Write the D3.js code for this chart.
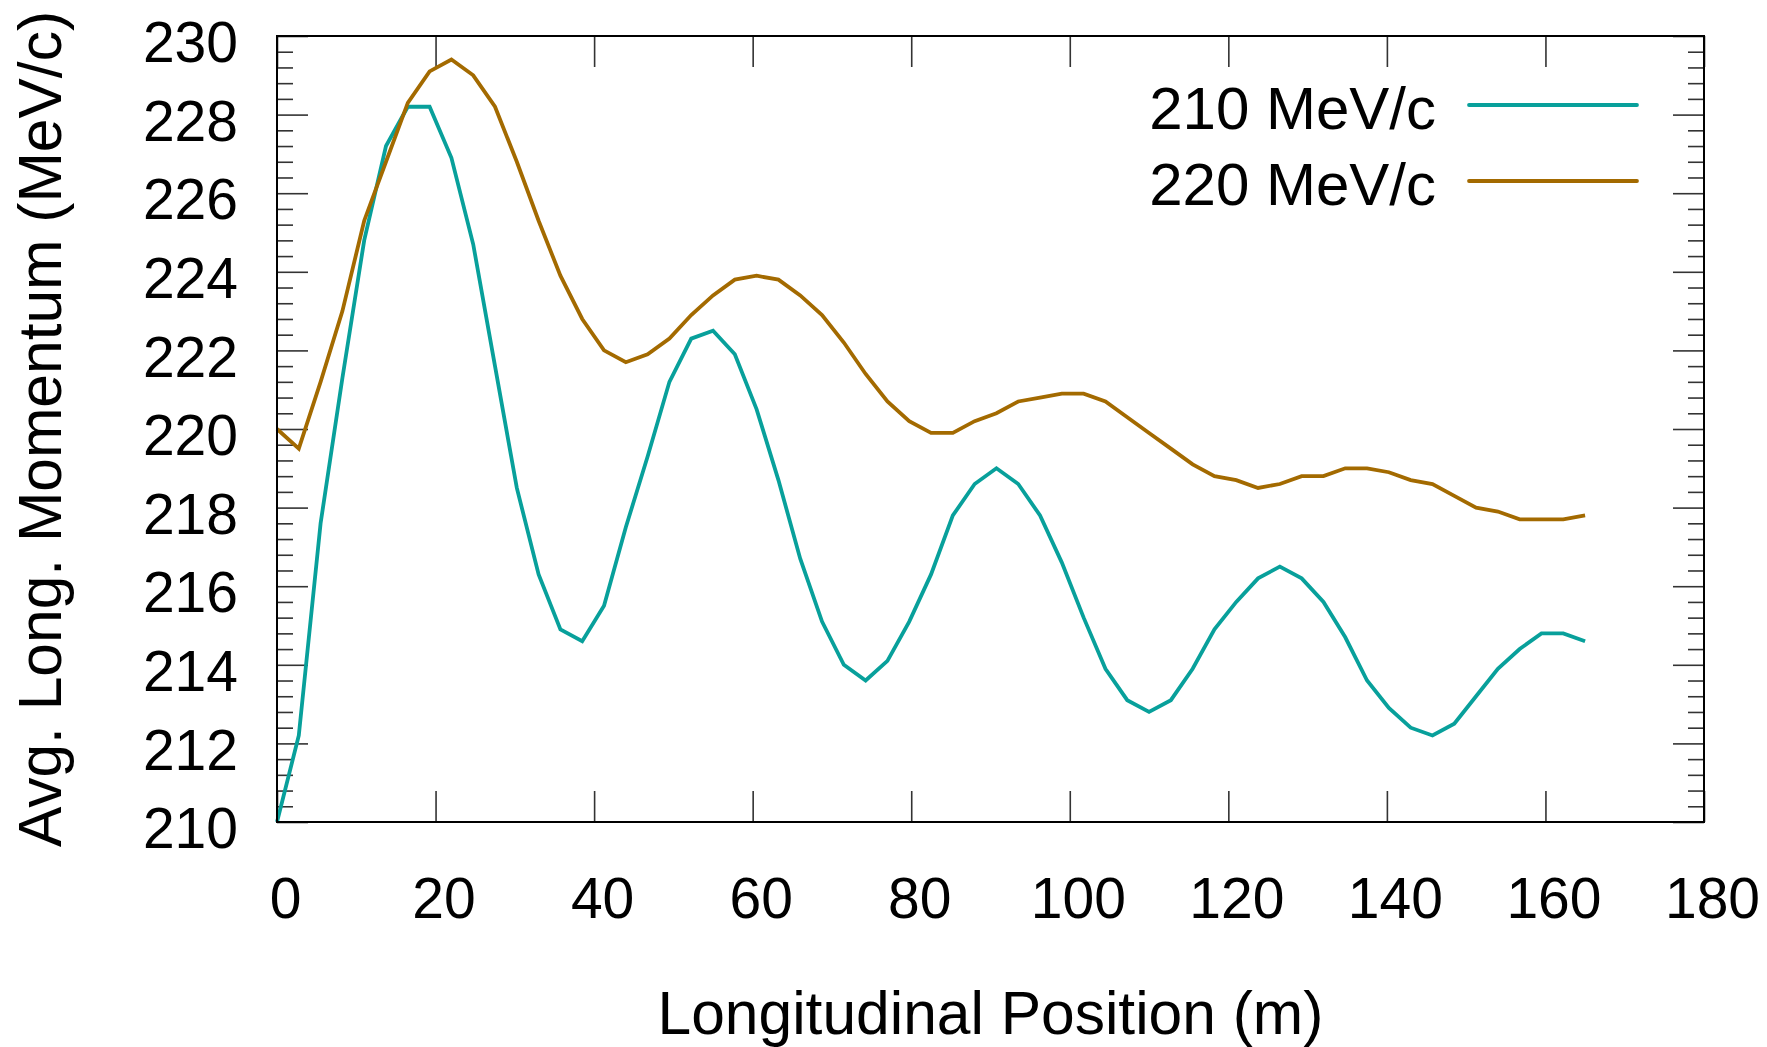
<!DOCTYPE html>
<html>
<head>
<meta charset="utf-8">
<script src="https://cdn.jsdelivr.net/npm/d3@7"></script>
<style>
  html, body { margin: 0; padding: 0; background: #fff; }
  svg { display: block; }
  text { font-family: "Liberation Sans", Arial, sans-serif; fill: #000; }
</style>
</head>
<body>
<svg id="chart" width="1767" height="1047"></svg>
<script>
// ---- Data ----
const positions = [0, 2.75, 5.5, 8.25, 11, 13.75, 16.5, 19.25, 22, 24.75,
  27.5, 30.25, 33, 35.75, 38.5, 41.25, 44, 46.75, 49.5, 52.25,
  55, 57.75, 60.5, 63.25, 66, 68.75, 71.5, 74.25, 77, 79.75,
  82.5, 85.25, 88, 90.75, 93.5, 96.25, 99, 101.75, 104.5, 107.25,
  110, 112.75, 115.5, 118.25, 121, 123.75, 126.5, 129.25, 132, 134.75,
  137.5, 140.25, 143, 145.75, 148.5, 151.25, 154, 156.75, 159.5, 162.25, 165];

const p210 = [210.0, 212.2, 217.6, 221.3, 224.8, 227.2, 228.2, 228.2, 226.9, 224.7,
  221.6, 218.5, 216.3, 214.9, 214.6, 215.5, 217.5, 219.3, 221.2, 222.3,
  222.5, 221.9, 220.5, 218.7, 216.7, 215.1, 214.0, 213.6, 214.1, 215.1,
  216.3, 217.8, 218.6, 219.0, 218.6, 217.8, 216.6, 215.2, 213.9, 213.1,
  212.8, 213.1, 213.9, 214.9, 215.6, 216.2, 216.5, 216.2, 215.6, 214.7,
  213.6, 212.9, 212.4, 212.2, 212.5, 213.2, 213.9, 214.4, 214.8, 214.8, 214.6];

const p220 = [220.0, 219.5, 221.2, 223.0, 225.3, 226.8, 228.3, 229.1, 229.4, 229.0,
  228.2, 226.8, 225.3, 223.9, 222.8, 222.0, 221.7, 221.9, 222.3, 222.9,
  223.4, 223.8, 223.9, 223.8, 223.4, 222.9, 222.2, 221.4, 220.7, 220.2,
  219.9, 219.9, 220.2, 220.4, 220.7, 220.8, 220.9, 220.9, 220.7, 220.3,
  219.9, 219.5, 219.1, 218.8, 218.7, 218.5, 218.6, 218.8, 218.8, 219.0,
  219.0, 218.9, 218.7, 218.6, 218.3, 218.0, 217.9, 217.7, 217.7, 217.7, 217.8];

const seriesNames = ["210 MeV/c", "220 MeV/c"];
const seriesColors = ["#08a09b", "#a36a00"];
const xTicks = [0, 20, 40, 60, 80, 100, 120, 140, 160, 180];
const yTicks = [210, 212, 214, 216, 218, 220, 222, 224, 226, 228, 230];
const yMinorTicks = [210.4, 210.8, 211.2, 211.6, 212.4, 212.8, 213.2, 213.6,
  214.4, 214.8, 215.2, 215.6, 216.4, 216.8, 217.2, 217.6,
  218.4, 218.8, 219.2, 219.6, 220.4, 220.8, 221.2, 221.6,
  222.4, 222.8, 223.2, 223.6, 224.4, 224.8, 225.2, 225.6,
  226.4, 226.8, 227.2, 227.6, 228.4, 228.8, 229.2, 229.6];
const xTitle = "Longitudinal Position (m)";
const yTitle = "Avg. Long. Momentum (MeV/c)";

// ---- Layout ----
const L = 277, R = 1704, T = 36, B = 822;
const svg = d3.select("#chart");
const x = d3.scaleLinear().domain([0, 180]).range([L, R]);
const y = d3.scaleLinear().domain([210, 230]).range([B, T]);

const tickColor = "#333";

function styleAxis(g, labels) {
  g.select(".domain").remove();
  g.selectAll(".tick line").attr("stroke", tickColor).attr("stroke-width", 1.6);
  if (!labels) g.selectAll(".tick text").remove();
}

// bottom axis
svg.append("g").attr("transform", `translate(0,${B})`)
  .call(d3.axisBottom(x).tickValues(xTicks).tickSize(-31).tickPadding(56).tickFormat(d3.format("d")))
  .call(g => styleAxis(g, true))
  .call(g => g.selectAll(".tick text").attr("font-size", 57).attr("dx", 8)
      .attr("font-family", "Liberation Sans, Arial, sans-serif").attr("fill", "#000"));
// top axis
svg.append("g").attr("transform", `translate(0,${T})`)
  .call(d3.axisTop(x).tickValues(xTicks).tickSize(-31))
  .call(g => styleAxis(g, false));
// left axis major
svg.append("g").attr("transform", `translate(${L},0)`)
  .call(d3.axisLeft(y).tickValues(yTicks).tickSize(-31).tickPadding(39).tickFormat(d3.format("d")))
  .call(g => styleAxis(g, true))
  .call(g => g.selectAll(".tick text").attr("font-size", 57).attr("dy", "0.45em")
      .attr("font-family", "Liberation Sans, Arial, sans-serif").attr("fill", "#000"));
// left minor
svg.append("g").attr("transform", `translate(${L},0)`)
  .call(d3.axisLeft(y).tickValues(yMinorTicks).tickSize(-16))
  .call(g => styleAxis(g, false));
// right axis major + minor
svg.append("g").attr("transform", `translate(${R},0)`)
  .call(d3.axisRight(y).tickValues(yTicks).tickSize(-31))
  .call(g => styleAxis(g, false));
svg.append("g").attr("transform", `translate(${R},0)`)
  .call(d3.axisRight(y).tickValues(yMinorTicks).tickSize(-16))
  .call(g => styleAxis(g, false));

// lines
const rows = [p210, p220];
const line = d3.line().x((d, i) => x(positions[i])).y(d => y(d));
rows.forEach((vals, k) => {
  svg.append("path").datum(vals)
    .attr("d", line)
    .attr("fill", "none")
    .attr("stroke", seriesColors[k])
    .attr("stroke-width", 3.8)
    .attr("stroke-linejoin", "miter");
});

// frame
svg.append("rect").attr("x", L).attr("y", T).attr("width", R - L).attr("height", B - T)
  .attr("fill", "none").attr("stroke", "#000").attr("stroke-width", 2);

// legend
const legY = [105, 181];
seriesNames.forEach((name, k) => {
  svg.append("text").attr("x", 1436).attr("y", legY[k] + 24)
    .attr("text-anchor", "end").attr("font-size", 60).text(name);
  svg.append("line").attr("x1", 1469).attr("x2", 1637)
    .attr("y1", legY[k]).attr("y2", legY[k])
    .attr("stroke", seriesColors[k]).attr("stroke-width", 3.8)
    .attr("stroke-linecap", "round");
});

// titles
svg.append("text").attr("x", (L + R) / 2).attr("y", 1034)
  .attr("text-anchor", "middle").attr("font-size", 60.5).text(xTitle);
svg.append("text")
  .attr("transform", `translate(61,${(T + B) / 2}) rotate(-90)`)
  .attr("text-anchor", "middle").attr("font-size", 60.5).text(yTitle);
</script>
</body>
</html>
